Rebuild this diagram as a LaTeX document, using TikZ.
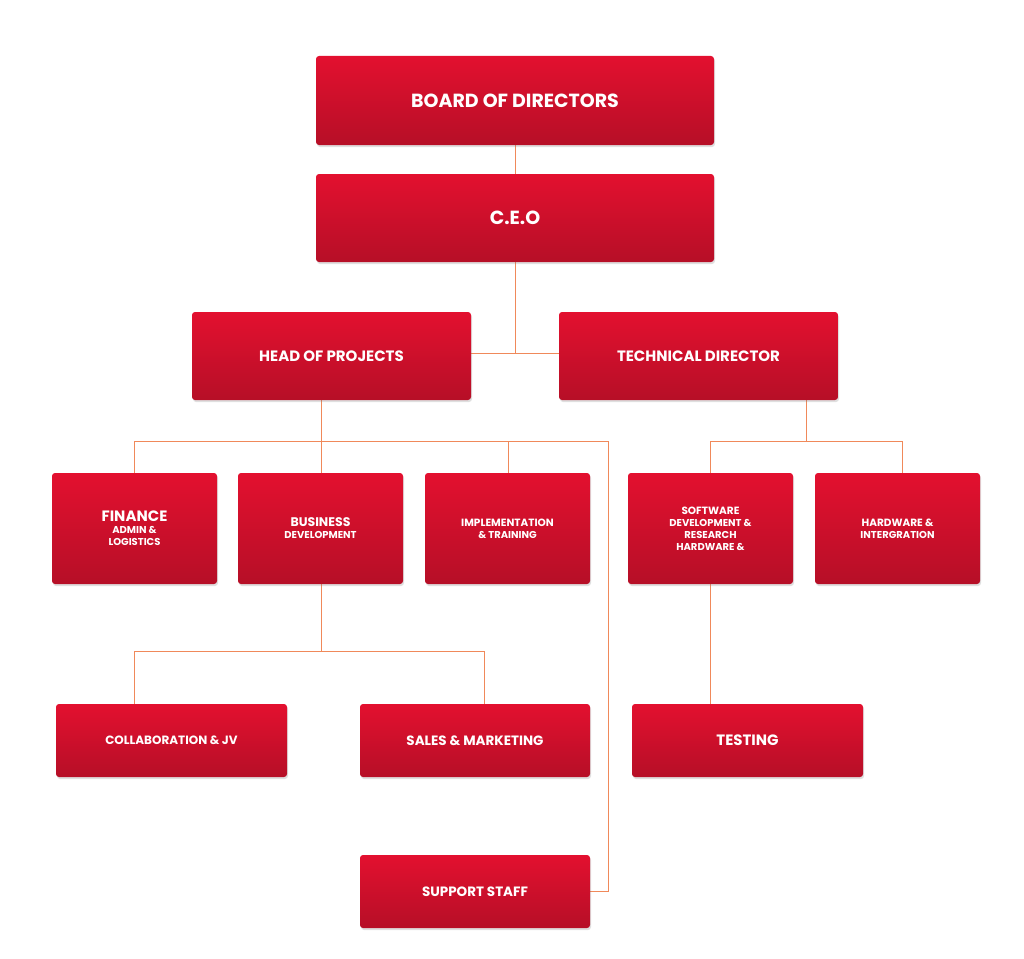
\documentclass[tikz,border=0pt]{standalone}
\usepackage{fontspec}
\setmainfont{Poppins}
\usetikzlibrary{shadows}
\definecolor{boxtop}{HTML}{E3102F}
\definecolor{boxbot}{HTML}{B60F27}
\definecolor{wire}{HTML}{F0895A}
\tikzset{
  box/.style={rounded corners=3pt, top color=boxtop, bottom color=boxbot, draw=none,
    text=white, font=\bfseries, align=center, inner sep=0pt,
    drop shadow={shadow xshift=1pt, shadow yshift=-2pt, opacity=0.25}},
  wire/.style={draw=wire, line width=0.8pt}
}
\newcommand{\orgbox}[6]{% name, x1, y1, x2, y2, text
  \path[box] (#2,#3) rectangle (#4,#5);
  \node[text=white, font=\bfseries, align=center] (#1) at ({(#2+#4)/2},{(#3+#5)/2}) {#6};
  \coordinate (#1-n) at ({(#2+#4)/2},#3);
}
\begin{document}
\begin{tikzpicture}[x=1pt, y=-1pt]
  \useasboundingbox (0,0) rectangle (1024,958);
  % wires first
  \draw[wire] (515,145) -- (515,174);
  \draw[wire] (515,262) -- (515,353) (471,353) -- (559,353);
  \draw[wire] (321,400) -- (321,473);
  \draw[wire] (134,473) |- (608,441) |- (590,891);
  \draw[wire] (508,441) -- (508,473);
  \draw[wire] (806,400) -- (806,441);
  \draw[wire] (710,473) |- (902,441) -- (902,473);
  \draw[wire] (710,584) -- (710,704);
  \draw[wire] (321,584) -- (321,651);
  \draw[wire] (134,704) |- (484,651) -- (484,704);
  % boxes
  \orgbox{board}{316}{56}{714}{145}{\fontsize{19}{22}\selectfont BOARD OF DIRECTORS}
  \orgbox{ceo}{316}{174}{714}{262}{\fontsize{19}{22}\selectfont C.E.O}
  \orgbox{hop}{192}{312}{471}{400}{\fontsize{15}{18}\selectfont HEAD OF PROJECTS}
  \orgbox{tech}{559}{312}{838}{400}{\fontsize{15}{18}\selectfont TECHNICAL DIRECTOR}
  \orgbox{fin}{52}{473}{217}{584}{\fontsize{15}{19}\selectfont FINANCE\\ADMIN \&\\LOGISTICS}
  \orgbox{bus}{238}{473}{403}{584}{\fontsize{12.5}{18}\selectfont BUSINESS\\DEVELOPMENT}
  \orgbox{impl}{425}{473}{590}{584}{\fontsize{10.5}{16}\selectfont IMPLEMENTATION\\\& TRAINING}
  \orgbox{soft}{628}{473}{793}{584}{\fontsize{10.5}{13}\selectfont SOFTWARE\\DEVELOPMENT \&\\RESEARCH\\HARDWARE \&}
  \orgbox{hard}{815}{473}{980}{584}{\fontsize{10.5}{13}\selectfont HARDWARE \&\\INTERGRATION}
  \orgbox{collab}{56}{704}{287}{777}{\fontsize{12}{15}\selectfont COLLABORATION \& JV}
  \orgbox{sales}{360}{704}{590}{777}{\fontsize{13.5}{16}\selectfont SALES \& MARKETING}
  \orgbox{test}{632}{704}{863}{777}{\fontsize{15}{18}\selectfont TESTING}
  \orgbox{support}{360}{855}{590}{928}{\fontsize{13.5}{16}\selectfont SUPPORT STAFF}
\end{tikzpicture}
\end{document}
